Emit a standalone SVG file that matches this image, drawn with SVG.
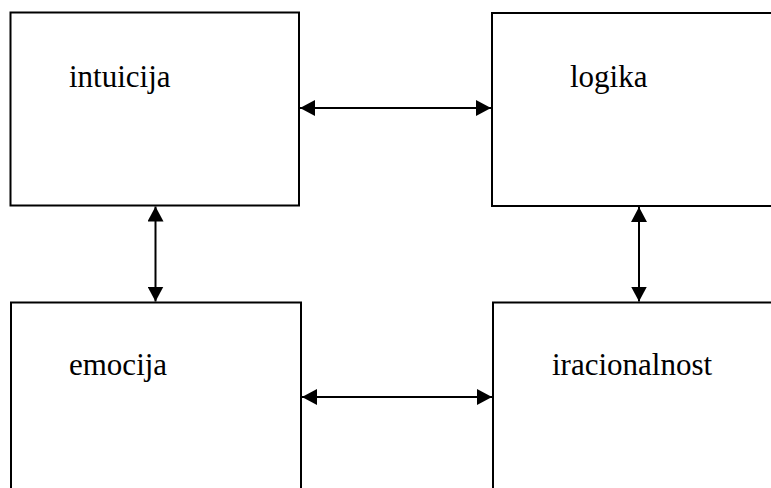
<svg xmlns="http://www.w3.org/2000/svg" width="771" height="488" viewBox="0 0 771 488">
  <style>
    .box { fill: none; stroke: #000; stroke-width: 2; }
    .label { font-family: "Liberation Serif", "Times New Roman", serif; font-size: 31px; fill: #000; }
    .link { stroke: #000; stroke-width: 2; fill: none; marker-start: url(#head); marker-end: url(#head); }
  </style>
  <defs>
    <marker id="head" viewBox="0 0 15 16" refX="15" refY="8" markerWidth="15" markerHeight="16" markerUnits="userSpaceOnUse" orient="auto-start-reverse">
      <path d="M0,0 L15,8 L0,16 Z" fill="#000"/>
    </marker>
  </defs>
  <rect width="771" height="488" fill="#fff"/>

  <g id="intuicija">
    <rect class="box" x="10.5" y="12.5" width="288.5" height="193"/>
    <text class="label" x="69" y="87">intuicija</text>
  </g>
  <g id="logika">
    <rect class="box" x="492" y="13" width="300" height="193"/>
    <text class="label" x="570" y="87">logika</text>
  </g>
  <g id="emocija">
    <rect class="box" x="11" y="302.5" width="290" height="220"/>
    <text class="label" x="69" y="375">emocija</text>
  </g>
  <g id="iracionalnost">
    <rect class="box" x="493" y="302.5" width="300" height="220"/>
    <text class="label" x="552" y="375">iracionalnost</text>
  </g>

  <g id="connectors">
    <line class="link" x1="300" y1="108" x2="491" y2="108"/>
    <line class="link" x1="302" y1="397" x2="492" y2="397"/>
    <line class="link" x1="155.5" y1="206.5" x2="155.5" y2="301.5"/>
    <line class="link" x1="639" y1="207" x2="639" y2="301.5"/>
  </g>
</svg>
